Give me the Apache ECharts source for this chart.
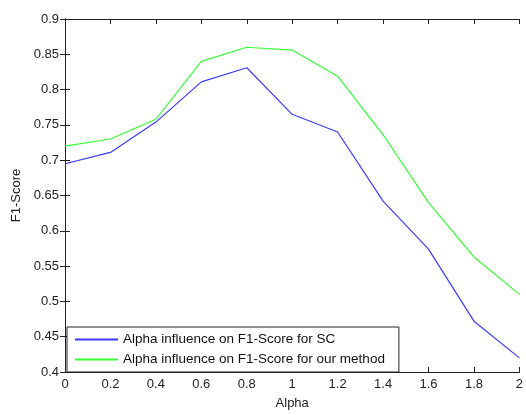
<!DOCTYPE html>
<html>
<head>
<meta charset="utf-8">
<script src="https://cdn.jsdelivr.net/npm/echarts@6/dist/echarts.min.js"></script>
<style>
  html, body { margin: 0; padding: 0; background: #fff; }
  #chart { width: 526px; height: 415px; }
</style>
</head>
<body>
<div id="chart"></div>
<script>
const alpha = [0, 0.2, 0.4, 0.6, 0.8, 1.0, 1.2, 1.4, 1.6, 1.8, 2.0];
const scValues = [0.695, 0.711, 0.754, 0.811, 0.831, 0.765, 0.740, 0.642, 0.574, 0.472, 0.420];
const ourValues = [0.720, 0.730, 0.758, 0.840, 0.860, 0.856, 0.819, 0.736, 0.640, 0.563, 0.510];
const scName = "Alpha influence on F1-Score for SC";
const ourName = "Alpha influence on F1-Score for our method";

const chart = echarts.init(document.getElementById("chart"));

const fmt = (v) => String(parseFloat(v.toFixed(2)));
const labelStyle = { color: "#222", fontSize: 13, fontFamily: "Liberation Sans, Arial, sans-serif" };
const axisLine = { show: true, lineStyle: { color: "#222", width: 1 } };
const tick = { show: true, inside: true, length: 5, lineStyle: { color: "#222" } };

chart.setOption({
  animation: false,
  grid: { left: 65, right: 3, top: 19, bottom: 37 },
  xAxis: [
    {
      type: "value", min: 0, max: 2, interval: 0.2,
      name: "Alpha", nameLocation: "middle", nameGap: 25,
      nameTextStyle: labelStyle,
      axisLine, axisTick: tick,
      axisLabel: { ...labelStyle, margin: 6, formatter: fmt },
      splitLine: { show: false },
    },
    {
      type: "value", min: 0, max: 2, interval: 0.2, position: "top",
      axisLine, axisTick: tick, axisLabel: { show: false }, splitLine: { show: false },
    },
  ],
  yAxis: [
    {
      type: "value", min: 0.4, max: 0.9, interval: 0.05,
      name: "F1-Score", nameLocation: "middle", nameGap: 35,
      nameTextStyle: labelStyle,
      axisLine, axisTick: tick,
      axisLabel: { ...labelStyle, margin: 6, formatter: fmt },
      splitLine: { show: false },
    },
    {
      type: "value", min: 0.4, max: 0.9, interval: 0.05, position: "right",
      axisLine, axisTick: tick, axisLabel: { show: false }, splitLine: { show: false },
    },
  ],
  legend: {
    orient: "vertical",
    left: 67, top: 327,
    icon: "rect",
    itemWidth: 43, itemHeight: 2, itemGap: 5,
    padding: [5, 14, 5, 8],
    borderColor: "#222", borderWidth: 1, backgroundColor: "#fff",
    textStyle: { color: "#111", fontSize: 13.5, lineHeight: 15, fontFamily: "Liberation Sans, Arial, sans-serif" },
    data: [scName, ourName],
  },
  series: [
    {
      name: scName, type: "line",
      data: alpha.map((a, i) => [a, scValues[i]]),
      symbol: "none", lineStyle: { color: "#3a3aff", width: 1.2 }, itemStyle: { color: "#3a3aff" },
    },
    {
      name: ourName, type: "line",
      data: alpha.map((a, i) => [a, ourValues[i]]),
      symbol: "none", lineStyle: { color: "#33ff33", width: 1.2 }, itemStyle: { color: "#33ff33" },
    },
  ],
});
</script>
</body>
</html>
